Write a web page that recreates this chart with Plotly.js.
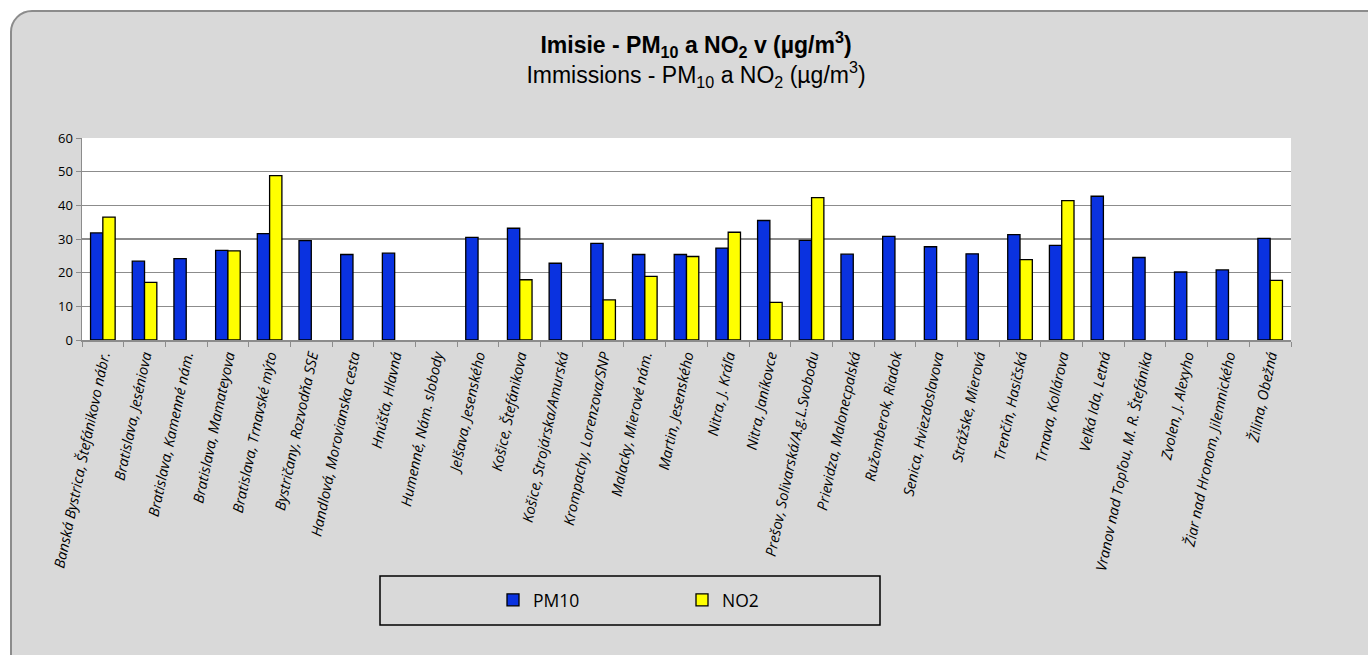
<!DOCTYPE html>
<html>
<head>
<meta charset="utf-8">
<script src="https://cdn.plot.ly/plotly-3.0.1.min.js"></script>
<style>
  html, body { margin: 0; padding: 0; background: #ffffff; overflow: hidden; }
  #frame { position: absolute; left: 10px; top: 10px; width: 1400px; height: 700px;
           background: #d9d9d9; border: 2px solid #8c8c8c; border-radius: 22px; box-sizing: border-box; }
  #chart { position: absolute; left: 0; top: 0; width: 1368px; height: 655px; }
</style>
</head>
<body>
<div id="frame"></div>
<div id="chart"></div>
<script>
const stations = [
  "Banská Bystrica, Štefánikovo nábr.",
  "Bratislava, Jeséniova",
  "Bratislava, Kamenné nám.",
  "Bratislava, Mamateyova",
  "Bratislava, Trnavské mýto",
  "Bystričany, Rozvodňa SSE",
  "Handlová, Morovianska cesta",
  "Hnúšťa, Hlavná",
  "Humenné, Nám. slobody",
  "Jelšava, Jesenského",
  "Košice, Štefánikova",
  "Košice, Strojárska/Amurská",
  "Krompachy, Lorenzova/SNP",
  "Malacky, Mierové nám.",
  "Martin, Jesenského",
  "Nitra, J. Kráľa",
  "Nitra, Janíkovce",
  "Prešov, Solivarská/A.g.L.Svobodu",
  "Prievidza, Malonecpalská",
  "Ružomberok, Riadok",
  "Senica, Hviezdoslavova",
  "Strážske, Mierová",
  "Trenčín, Hasičská",
  "Trnava, Kollárova",
  "Veľká Ida, Letná",
  "Vranov nad Topľou, M. R. Štefánika",
  "Zvolen, J. Alexyho",
  "Žiar nad Hronom, Jilemnického",
  "Žilina, Obežná"
];
const pm10 = [31.8, 23.4, 24.2, 26.6, 31.6, 29.5, 25.4, 25.8, null, 30.5,
              33.2, 22.8, 28.7, 25.4, 25.4, 27.3, 35.5, 29.6, 25.5, 30.8,
              27.7, 25.6, 31.3, 28.1, 42.7, 24.5, 20.2, 20.8, 30.2];
const no2 = [36.5, 17.1, null, 26.5, 48.8, null, null, null, null, null,
             17.9, null, 11.9, 18.9, 24.8, 32.0, 11.2, 42.3, null, null,
             null, null, 23.9, 41.4, null, null, null, null, 17.7];
const yTicks = [0, 10, 20, 30, 40, 50, 60];

const traces = [
  { type: 'bar', name: 'PM10', x: stations, y: pm10,
    marker: { color: '#0a32e0', line: { color: '#000000', width: 1.3 } } },
  { type: 'bar', name: 'NO2', x: stations, y: no2,
    marker: { color: '#ffff00', line: { color: '#000000', width: 1.3 } } }
];

const W = 1368, H = 655;
const L = 82, R = 77, T = 138, B = 315;
const pw = W - L - R, ph = H - T - B;
const px = v => (v - L) / pw;
const py = v => (H - B - v) / ph;

const layout = {
  width: W, height: H,
  margin: { l: L, r: R, t: T, b: B, pad: 0 },
  paper_bgcolor: 'rgba(0,0,0,0)',
  plot_bgcolor: '#ffffff',
  barmode: 'group',
  bargap: 0.41,
  bargroupgap: 0,
  font: { family: 'Open Sans, sans-serif', color: '#000000' },
  title: {
    text: '<b>Imisie - PM<sub>10</sub> a NO<sub>2</sub> v (µg/m<sup>3</sup>)</b><br>Immissions - PM<sub>10</sub> a NO<sub>2</sub> (µg/m<sup>3</sup>)',
    font: { family: 'Liberation Sans, Arial, sans-serif', size: 23, color: '#000000' },
    x: 696 / W, xanchor: 'center', y: 1 - 53 / H, yanchor: 'top'
  },
  xaxis: {
    type: 'category',
    tickangle: -78,
    tickfont: { family: 'Open Sans, sans-serif', size: 14.5, style: 'italic', color: '#000000' },
    ticks: 'outside', tickson: 'boundaries', ticklen: 5, tickcolor: '#8c8c8c', tickwidth: 1,
    showline: true, linecolor: '#8c8c8c', linewidth: 1.5,
    showgrid: false, zeroline: false, automargin: false
  },
  yaxis: {
    range: [0, 60],
    tickvals: yTicks,
    tickfont: { family: 'Open Sans, sans-serif', size: 13, color: '#000000' },
    ticks: 'outside', ticklen: 5, tickcolor: '#8c8c8c', tickwidth: 1,
    showline: true, linecolor: '#8c8c8c', linewidth: 1.5,
    showgrid: true, gridcolor: '#8c8c8c', gridwidth: 1.3,
    zeroline: false, automargin: false
  },
  legend: {
    orientation: 'h',
    x: px(493), xanchor: 'left',
    y: py(600), yanchor: 'middle',
    bgcolor: 'rgba(0,0,0,0)', borderwidth: 0,
    font: { family: 'Open Sans, sans-serif', size: 17.5, color: '#000000' },
    entrywidth: 144, entrywidthmode: 'pixels',
    traceorder: 'normal'
  },
  shapes: [
    { type: 'rect', xref: 'paper', yref: 'paper',
      x0: px(380), x1: px(880), y0: py(625), y1: py(576),
      line: { color: '#000000', width: 1.5 }, fillcolor: 'rgba(0,0,0,0)', layer: 'above' }
  ],
  showlegend: true
};

Plotly.newPlot('chart', traces, layout, { staticPlot: true, displayModeBar: false });
</script>
</body>
</html>
